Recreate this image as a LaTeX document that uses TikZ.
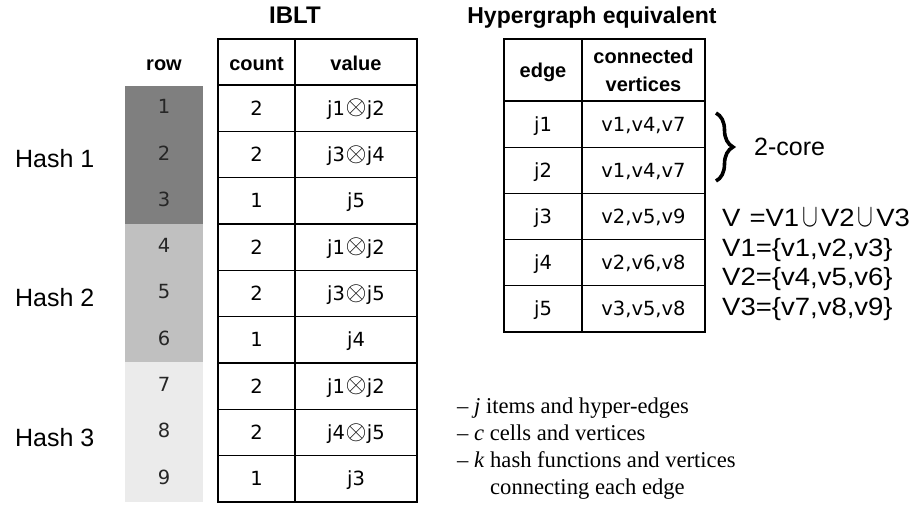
\documentclass[tikz,border=0pt]{standalone}
\usepackage{fontspec}
\setmainfont{Liberation Serif}
\newfontfamily\hv{Liberation Sans}
\newfontfamily\hvw[FakeStretch=1.1]{Liberation Sans}
\newfontfamily\dv{DejaVu Sans}
\usetikzlibrary{decorations.pathreplacing}
\definecolor{gA}{HTML}{7F7F7F}
\definecolor{gB}{HTML}{C0C0C0}
\definecolor{gC}{HTML}{EBEBEB}
\newcommand{\ox}{\hspace{0.5pt}\raisebox{0.3pt}{\scalebox{1.3}{$\otimes$}}\hspace{0.5pt}}
\newcommand{\uni}{\hspace{3pt}\scalebox{0.95}[1.3]{$\cup$}\hspace{3pt}}
\begin{document}
\begin{tikzpicture}[x=1pt,y=-1pt,
  cell/.style={draw, line width=1.3pt, inner sep=0pt, outer sep=0pt, anchor=north west,
    font=\dv\fontsize{19.5}{21}\selectfont, text height=14pt, text depth=0pt},
  hdr/.style={font=\hv\bfseries\fontsize{20}{23}\selectfont, anchor=base},
  title/.style={font=\hv\bfseries\fontsize{24}{28}\selectfont, anchor=base},
  rownum/.style={font=\dv\fontsize{19.5}{21}\selectfont, text height=14pt, text depth=0pt, inner sep=0pt, text=black!85},
  hashlbl/.style={font=\hv\fontsize{25}{28}\selectfont, anchor=base west, inner sep=0pt},
  vtext/.style={font=\hvw\fontsize{25}{28}\selectfont, anchor=base west, inner sep=0pt},
  note/.style={font=\fontsize{22.6}{26}\selectfont, anchor=base west, inner sep=0pt}]
\useasboundingbox (0,0) rectangle (921,515);

% titles
\node[title] (t1) at (295,23) {IBLT};
\node[title, font=\hv\bfseries\fontsize{23}{28}\selectfont] (t2) at (592,23) {Hypergraph equivalent};

% row column shading
\fill[gA] (125,86) rectangle (203,224);
\fill[gB] (125,224) rectangle (203,362);
\fill[gC] (125,362) rectangle (203,502);
\node[hdr] (hrow) at (164,70) {row};

% IBLT header
\node[cell, minimum width=77pt, minimum height=46pt] (hc) at (218,39) {};
\node[cell, minimum width=122pt, minimum height=46pt] (hv) at (295,39) {};
\node[hdr] (hcl) at (256.5,70) {count};
\node[hdr] (hvl) at (356,70) {value};

% IBLT rows
\foreach \i/\c/\v in {1/2/j1\ox j2,2/2/j3\ox j4,3/1/j5,4/2/j1\ox j2,5/2/j3\ox j5,6/1/j4,7/2/j1\ox j2,8/2/j4\ox j5,9/1/j3}{
  \pgfmathsetmacro\yt{85+(\i-1)*46.33}
  \pgfmathsetmacro\yc{\yt+23.17-1.5}
  \node[cell, minimum width=77pt, minimum height=46.33pt] (c\i) at (218,\yt) {\c};
  \node[cell, minimum width=122pt, minimum height=46.33pt] (v\i) at (295,\yt) {\v};
  \node[rownum] (r\i) at (164,\yc) {\i};
}

% hash labels
\node[hashlbl] (h1) at (15,167) {Hash 1};
\node[hashlbl] (h2) at (15,306) {Hash 2};
\node[hashlbl] (h3) at (15,446) {Hash 3};

% hypergraph table header
\node[cell, minimum width=78pt, minimum height=62pt] (he) at (504,39) {};
\node[cell, minimum width=123pt, minimum height=62pt] (hcv) at (582,39) {};
\node[hdr] (hel) at (543,77) {edge};
\node[hdr] (hcv1) at (643.5,63) {connected};
\node[hdr] (hcv2) at (643.5,91) {vertices};

\foreach \i/\v in {1/{v1,v4,v7},2/{v1,v4,v7},3/{v2,v5,v9},4/{v2,v6,v8},5/{v3,v5,v8}}{
  \pgfmathsetmacro\yt{101+(\i-1)*46.2}
  \node[cell, minimum width=78pt, minimum height=46.2pt] (e\i) at (504,\yt) {j\i};
  \node[cell, minimum width=123pt, minimum height=46.2pt] (ev\i) at (582,\yt) {\v};
}

% brace and 2-core
\draw[decorate, decoration={brace, amplitude=17pt}, line width=3.6pt] (716,113) -- (716,181);
\node[vtext, font=\hv\fontsize{25}{28}\selectfont, anchor=west] (core) at (754,147) {2-core};

% vertex sets
\node[vtext] (s0) at (722,226) {V\hspace{9pt}=V1\uni V2\uni V3};
\node[vtext] (s1) at (722,256) {V1=\{v1,v2,v3\}};
\node[vtext] (s2) at (722,285.5) {V2=\{v4,v5,v6\}};
\node[vtext] (s3) at (722,315) {V3=\{v7,v8,v9\}};

% notes
\node[note] (n1) at (457,413) {– \textit{j} items and hyper-edges};
\node[note] (n2) at (457,440) {– \textit{c} cells and vertices};
\node[note] (n3) at (457,467) {– \textit{k} hash functions and vertices};
\node[note] (n4) at (490,494) {connecting each edge};
\end{tikzpicture}
\end{document}
